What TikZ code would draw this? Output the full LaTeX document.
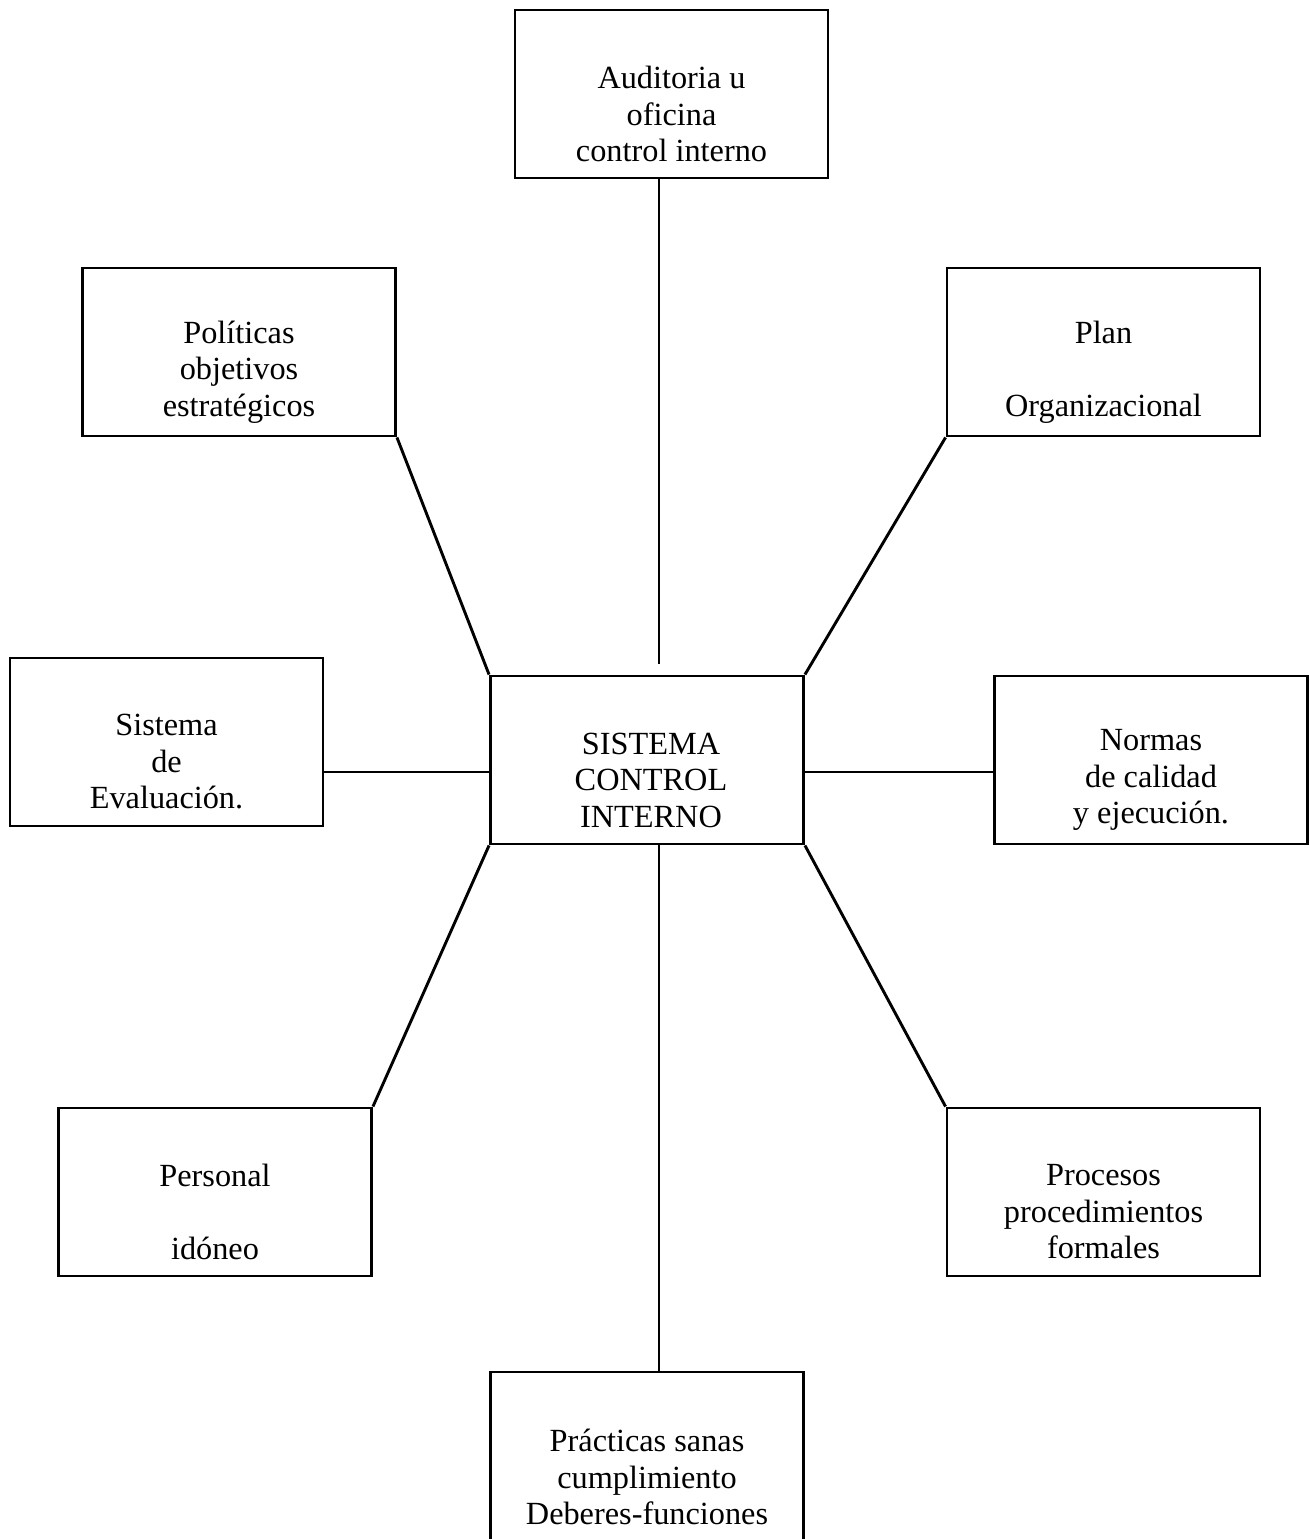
\documentclass[tikz,border=0pt]{standalone}
\usepackage{fontspec}
\setmainfont{Liberation Serif}
\begin{document}
\begin{tikzpicture}[x=1pt,y=-1pt,
  box/.style={draw,line width=2.9pt,minimum width=313pt,minimum height=168pt,inner sep=0pt},
  txt/.style={align=center,inner sep=0pt,font=\fontsize{32.3}{36.5}\selectfont},
  conn/.style={line width=2.9pt}]
\useasboundingbox (0,0) rectangle (1309,1539);
\clip (0,0) rectangle (1309,1539);
% boxes
\node[box] (aud)  at (671.5,94) {};
\node[box] (pol)  at (239,352) {};
\node[box] (plan) at (1103.5,352) {};
\node[box] (eval) at (166.5,742) {};
\node[box] (sci)  at (647,760) {};
\node[box] (norm) at (1151,760) {};
\node[box] (pers) at (215,1192) {};
\node[box] (proc) at (1103.5,1192) {};
\node[box] (prac) at (647,1456) {};
% texts
\node[txt] (taud)  at (671.5,114) {Auditoria u\\oficina\\control interno};
\node[txt] (tpol)  at (239,372) {Políticas\\objetivos\\estratégicos};
\node[txt] (tplan) at (1103.5,372) {Plan\\[36.5pt]Organizacional};
\node[txt] (teval) at (166.5,762) {Sistema\\de\\Evaluación.};
\node[txt] (tsci)  at (651,780) {SISTEMA\\CONTROL\\INTERNO};
\node[txt] (tnorm) at (1151,780) {Normas\\de calidad\\y ejecución.};
\node[txt] (tpers) at (215,1212) {Personal\\[36.5pt]idóneo};
\node[txt] (tproc) at (1103.5,1212) {Procesos\\procedimientos\\formales};
\node[txt] (tprac) at (647,1477) {Prácticas sanas\\cumplimiento\\Deberes-funciones};
% helper coordinates
\coordinate (vx) at (659,664);
\coordinate (hy) at (0,772);
% connectors
\draw[conn] (aud.south -| vx) -- (vx);
\draw[conn] (sci.south -| vx) -- (prac.north -| vx);
\draw[conn] (pol.south east) -- (sci.north west);
\draw[conn] (plan.south west) -- (sci.north east);
\draw[conn] (sci.south west) -- (pers.north east);
\draw[conn] (sci.south east) -- (proc.north west);
\draw[conn] (eval.east |- hy) -- (sci.west |- hy);
\draw[conn] (sci.east |- hy) -- (norm.west |- hy);
\end{tikzpicture}
\end{document}
